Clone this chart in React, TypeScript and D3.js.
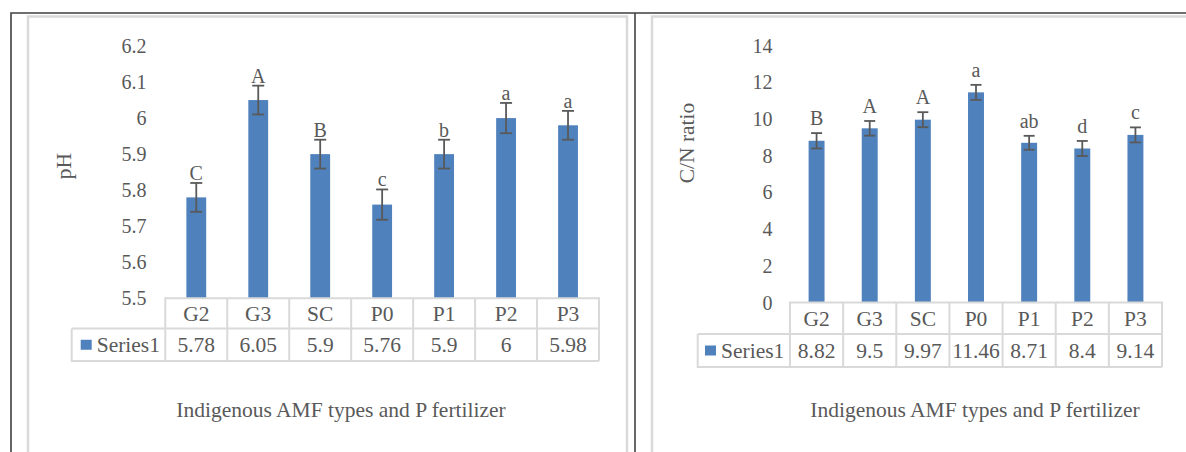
import * as d3 from "d3";

const categories = ["G2", "G3", "SC", "P0", "P1", "P2", "P3"];

const phValues = [5.78, 6.05, 5.9, 5.76, 5.9, 6, 5.98];
const phErrors = [0.04, 0.04, 0.04, 0.042, 0.04, 0.042, 0.04];
const phLetters = ["C", "A", "B", "c", "b", "a", "a"];
const phTicks = [5.5, 5.6, 5.7, 5.8, 5.9, 6, 6.1, 6.2];

const cnValues = [8.82, 9.5, 9.97, 11.46, 8.71, 8.4, 9.14];
const cnErrors = [0.42, 0.4, 0.41, 0.41, 0.38, 0.41, 0.41];
const cnLetters = ["B", "A", "A", "a", "ab", "d", "c"];
const cnTicks = [0, 2, 4, 6, 8, 10, 12, 14];

const xTitle = "Indigenous AMF types and P fertilizer";
const legendName = "Series1";

const TEXT = "#595959";
const GRID = "#d9d9d9";
const BAR = "#4f81bd";
const FONT = "'Liberation Serif', 'Times New Roman', serif";

type Layout = {
  tableX0: number; tableX1: number; legendX0: number;
  yTop: number; yBase: number; headBottom: number; tableBottom: number;
  tickX: number; tickSize: number; tableSize: number; letterSize: number;
  titleSize: number; letterGap: number; barFrac: number; capHalf: number;
  yTitle: string; yTitleX: number; yTitleY: number;
  xTitleX: number; xTitleY: number;
  swatchX: number; textX: number;
};

const T = ({ x, y, size, anchor = "middle", children }: any) => (
  <text x={x} y={y} textAnchor={anchor} dy="0.35em" fontSize={size} fill={TEXT} fontFamily={FONT}>
    {children}
  </text>
);

function Chart({ values, errors, letters, ticks, L }: any) {
  const lay: Layout = L;
  const x = d3.scaleBand().domain(categories).range([lay.tableX0, lay.tableX1]).padding(0);
  const y = d3.scaleLinear().domain([ticks[0], ticks[ticks.length - 1]]).range([lay.yBase, lay.yTop]);
  const bw = x.bandwidth() * lay.barFrac;
  const fmt = d3.format("~g");
  const headMid = (lay.yBase + lay.headBottom) / 2;
  const dataMid = (lay.headBottom + lay.tableBottom) / 2;

  return (
    <g>
      {ticks.map((t: number) => (
        <T key={t} x={lay.tickX} y={y(t)} size={lay.tickSize} anchor="end">{fmt(t)}</T>
      ))}
      <text
        transform={`translate(${lay.yTitleX},${lay.yTitleY}) rotate(-90)`}
        textAnchor="middle" dy="0.35em" fontSize={lay.titleSize} fill={TEXT} fontFamily={FONT}
      >{lay.yTitle}</text>

      {categories.map((c, i) => {
        const cx = (x(c) as number) + x.bandwidth() / 2;
        const top = y(values[i] + errors[i]);
        const bot = y(values[i] - errors[i]);
        return (
          <g key={c}>
            <rect x={cx - bw / 2} y={y(values[i])} width={bw} height={lay.yBase - y(values[i])} fill={BAR} />
            <line x1={cx} x2={cx} y1={top} y2={bot} stroke={TEXT} strokeWidth={1.8} />
            <line x1={cx - lay.capHalf} x2={cx + lay.capHalf} y1={top} y2={top} stroke={TEXT} strokeWidth={1.8} />
            <line x1={cx - lay.capHalf} x2={cx + lay.capHalf} y1={bot} y2={bot} stroke={TEXT} strokeWidth={1.8} />
            <text x={cx} y={top - lay.letterGap} textAnchor="middle" fontSize={lay.letterSize} fill={TEXT} fontFamily={FONT}>
              {letters[i]}
            </text>
          </g>
        );
      })}

      {/* data table */}
      <g stroke={GRID} strokeWidth={2} fill="none">
        <path d={`M${lay.tableX0},${lay.tableBottom}V${lay.yBase}H${lay.tableX1}V${lay.tableBottom}`} />
        <path d={`M${lay.legendX0},${lay.headBottom}H${lay.tableX1}`} />
        <path d={`M${lay.legendX0},${lay.headBottom}V${lay.tableBottom}H${lay.tableX1}`} />
        {categories.map((c) => (
          <line key={c} x1={(x(c) as number) + x.bandwidth()} x2={(x(c) as number) + x.bandwidth()} y1={lay.yBase} y2={lay.tableBottom} />
        ))}
      </g>
      {categories.map((c, i) => {
        const cx = (x(c) as number) + x.bandwidth() / 2;
        return (
          <g key={c}>
            <T x={cx} y={headMid} size={lay.tableSize}>{c}</T>
            <T x={cx} y={dataMid} size={lay.tableSize}>{fmt(values[i])}</T>
          </g>
        );
      })}
      <rect x={lay.swatchX} y={dataMid - 5} width={11} height={10} fill={BAR} />
      <T x={lay.textX} y={dataMid} size={lay.tableSize} anchor="start">{legendName}</T>

      <T x={lay.xTitleX} y={lay.xTitleY} size={lay.titleSize}>{xTitle}</T>
    </g>
  );
}

const leftLayout: Layout = {
  tableX0: 165.3, tableX1: 599, legendX0: 71.7,
  yTop: 46, yBase: 298.3, headBottom: 328.5, tableBottom: 361,
  tickX: 146.5, tickSize: 20, tableSize: 21.5, letterSize: 20, titleSize: 21.5,
  letterGap: 3, barFrac: 0.32, capHalf: 6,
  yTitle: "pH", yTitleX: 63, yTitleY: 166,
  xTitleX: 341, xTitleY: 409,
  swatchX: 80.7, textX: 96.7,
};

const rightLayout: Layout = {
  tableX0: 790, tableX1: 1162, legendX0: 697.7,
  yTop: 45.8, yBase: 302.5, headBottom: 334, tableBottom: 367,
  tickX: 772.5, tickSize: 20, tableSize: 21.5, letterSize: 20, titleSize: 21.5,
  letterGap: 8, barFrac: 0.3, capHalf: 5.5,
  yTitle: "C/N ratio", yTitleX: 686, yTitleY: 143,
  xTitleX: 975, xTitleY: 409,
  swatchX: 705, textX: 721,
};

export default function App() {
  return (
    <svg
      width={1186}
      height={452}
      style={{ position: "absolute", left: 0, top: 0, background: "#fff" }}
    >
      {/* page frame */}
      <path d="M11,452V13H1186" stroke="#404040" strokeWidth={1.6} fill="none" />
      <line x1={635} x2={635} y1={13} y2={452} stroke="#404040" strokeWidth={1.6} />
      {/* chart borders */}
      <path d="M28,452V16.5H627V452" stroke={GRID} strokeWidth={2.5} fill="none" />
      <path d="M652,452V16.5H1190" stroke={GRID} strokeWidth={2.5} fill="none" />
      <Chart values={phValues} errors={phErrors} letters={phLetters} ticks={phTicks} L={leftLayout} />
      <Chart values={cnValues} errors={cnErrors} letters={cnLetters} ticks={cnTicks} L={rightLayout} />
    </svg>
  );
}
